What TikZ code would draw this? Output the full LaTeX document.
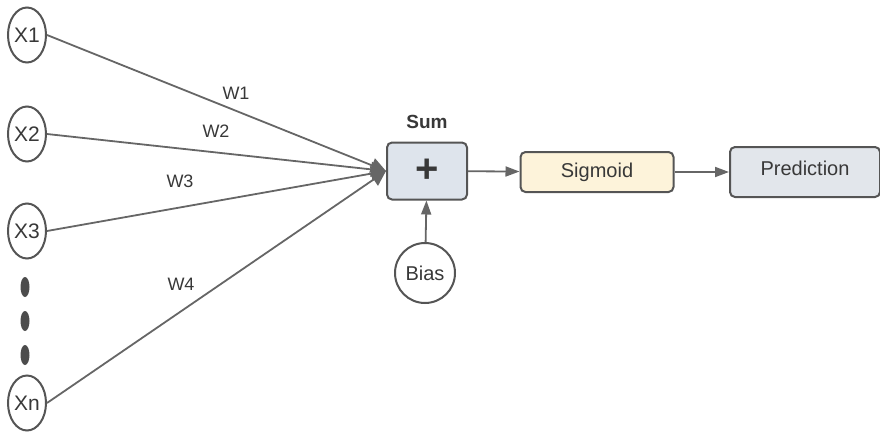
\documentclass[tikz,border=0pt]{standalone}
\usepackage{fontspec}
\setmainfont{Liberation Sans}
\usetikzlibrary{arrows.meta,positioning,shapes.geometric}
\definecolor{lgray}{HTML}{666666}
\definecolor{dgray}{HTML}{555555}
\definecolor{tgray}{HTML}{383838}
\definecolor{sumfill}{HTML}{DEE4EC}
\definecolor{sigfill}{HTML}{FDF3DA}
\definecolor{predfill}{HTML}{E2E6EB}
\tikzset{
  % input ellipses and round nodes
  inp/.style  = {ellipse, draw=dgray, line width=2pt, fill=white,
                 minimum width=38pt, minimum height=55pt, inner sep=0pt,
                 font=\fontsize{21}{22}\selectfont, text=tgray},
  blk/.style  = {rectangle, rounded corners=5pt, draw=dgray, line width=2pt, fill=#1,
                 align=center, inner sep=0pt, font=\fontsize{20}{22}\selectfont, text=tgray},
  blk/.default = predfill,
  lane/.style = {-{Triangle[length=15pt,width=15pt]}, line width=1.8pt, lgray},
  arr/.style  = {-{Triangle[length=14pt,width=10pt]}, line width=1.8pt, lgray},
  wlbl/.style = {font=\fontsize{18}{20}\selectfont, text=tgray},
  dot/.style  = {ellipse, fill=tgray!90, minimum width=9pt, minimum height=20pt, inner sep=0pt},
}
\begin{document}
\begin{tikzpicture}[x=1pt,y=-1pt]
\useasboundingbox (0,0) rectangle (880,431);
% inputs
\node[inp] (x1) at (27,35)  {X1};
\node[inp] (x2) at (27,134) {X2};
\node[inp] (x3) at (27,231) {X3};
\node[inp] (xn) at (27,403) {Xn};
\node[dot] (d1) at (25,287) {};
\node[dot] (d2) at (25,321) {};
\node[dot] (d3) at (25,355) {};

% summation, activation, output
\node[blk=sumfill, minimum width=80pt, minimum height=57pt] (sum) at (427,171)
     {\fontsize{40}{40}\selectfont\bfseries +};
\node[font=\fontsize{19}{20}\selectfont\bfseries, text=tgray] (sumlbl) at (427,122) {Sum};
\node[inp, circle, minimum size=60pt, font=\fontsize{20}{22}\selectfont] (bias) at (425,273) {Bias};
\node[blk=sigfill, minimum width=153pt, minimum height=40pt] (sig) at (597,172) {Sigmoid};
\node[blk=predfill, minimum width=150pt, minimum height=50pt, text depth=8pt] (pred) at (805,172) {Prediction};

% weighted inputs
\draw[lane] (x1.east) -- (sum.west);
\draw[lane] (x2.east) -- (sum.west);
\draw[lane] (x3.east) -- (sum.west);
\draw[lane] (xn.east) -- (sum.west);
\node[wlbl] (w1) at (236,93)  {W1};
\node[wlbl] (w2) at (216,131) {W2};
\node[wlbl] (w3) at (180,181) {W3};
\node[wlbl] (w4) at (181,284) {W4};

\draw[arr] (bias) -- (sum);
\draw[arr] (sum) -- (sig);
\draw[arr] (sig) -- (pred);
\end{tikzpicture}
\end{document}
